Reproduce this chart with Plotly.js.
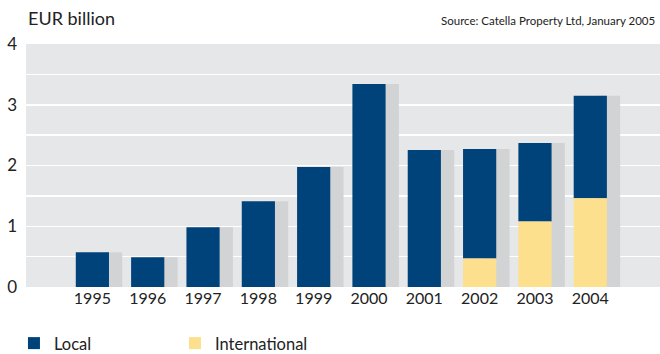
<!DOCTYPE html>
<html><head><meta charset="utf-8">
<script src="https://cdn.plot.ly/plotly-3.0.1.min.js"></script>
<style>html,body{margin:0;padding:0;background:#fff}#chart{width:660px;height:354px}</style>
</head><body><div id="chart"></div>
<script>
const years = ['1995','1996','1997','1998','1999','2000','2001','2002','2003','2004'];
const totals = [0.57, 0.49, 0.985, 1.41, 1.975, 3.34, 2.255, 2.27, 2.37, 3.15];
const international = [0, 0, 0, 0, 0, 0, 0, 0.47, 1.08, 1.46];
const local = totals.map((t, i) => +(t - international[i]).toFixed(3));
const yTicks = [0, 1, 2, 3, 4];

const xs = years.map((_, i) => i);
const font = 'Lato, "Open Sans", sans-serif';

const traces = [
  {type: 'bar', x: xs, y: totals, offset: 0.1, width: 0.44, marker: {color: '#D2D3D5'},
   showlegend: false, hoverinfo: 'skip'},
  {type: 'bar', x: xs, y: local, base: international, name: 'Local', offset: -0.3, width: 0.6,
   marker: {color: '#00437A'}},
  {type: 'bar', x: xs, y: international, name: 'International', offset: -0.3, width: 0.6,
   marker: {color: '#FDE08E'}}
];

const layout = {
  width: 660, height: 354,
  margin: {l: 26, r: 0, t: 44, b: 67, autoexpand: false},
  paper_bgcolor: '#ffffff', plot_bgcolor: '#E6E7E9',
  barmode: 'overlay',
  font: {family: font, color: '#222', size: 15},
  xaxis: {range: [-1.2, 10.26], tickvals: xs, ticktext: years, showgrid: false, zeroline: false,
          ticks: '', fixedrange: true, tickfont: {size: 16, color: '#222'}},
  yaxis: {range: [0, 4], tickvals: yTicks, showgrid: true, gridcolor: '#ffffff', gridwidth: 1.5,
          zeroline: false, ticks: '', ticklabelstandoff: 8, tickfont: {size: 17, color: '#222'},
          minor: {dtick: 0.5, showgrid: true, gridcolor: '#ffffff', gridwidth: 1.5}},
  legend: {orientation: 'h', x: -0.019, xanchor: 'left', y: -0.16, yanchor: 'top', traceorder: 'normal',
           entrywidth: 116, entrywidthmode: 'pixels', font: {size: 16.5, color: '#222'}},
  annotations: [
    {text: 'EUR billion', xref: 'paper', yref: 'paper', x: 0, xanchor: 'left',
     y: 1 + 26/243, yanchor: 'middle', showarrow: false, font: {size: 18, color: '#222'}},
    {text: 'Source: Catella Property Ltd, January 2005', xref: 'paper', yref: 'paper',
     x: 0.995, xanchor: 'right', y: 1 + 24/243, yanchor: 'middle', showarrow: false,
     font: {size: 11.5, color: '#222'}}
  ],
  showlegend: true
};

Plotly.newPlot('chart', traces, layout, {displayModeBar: false, staticPlot: true});
</script></body></html>
